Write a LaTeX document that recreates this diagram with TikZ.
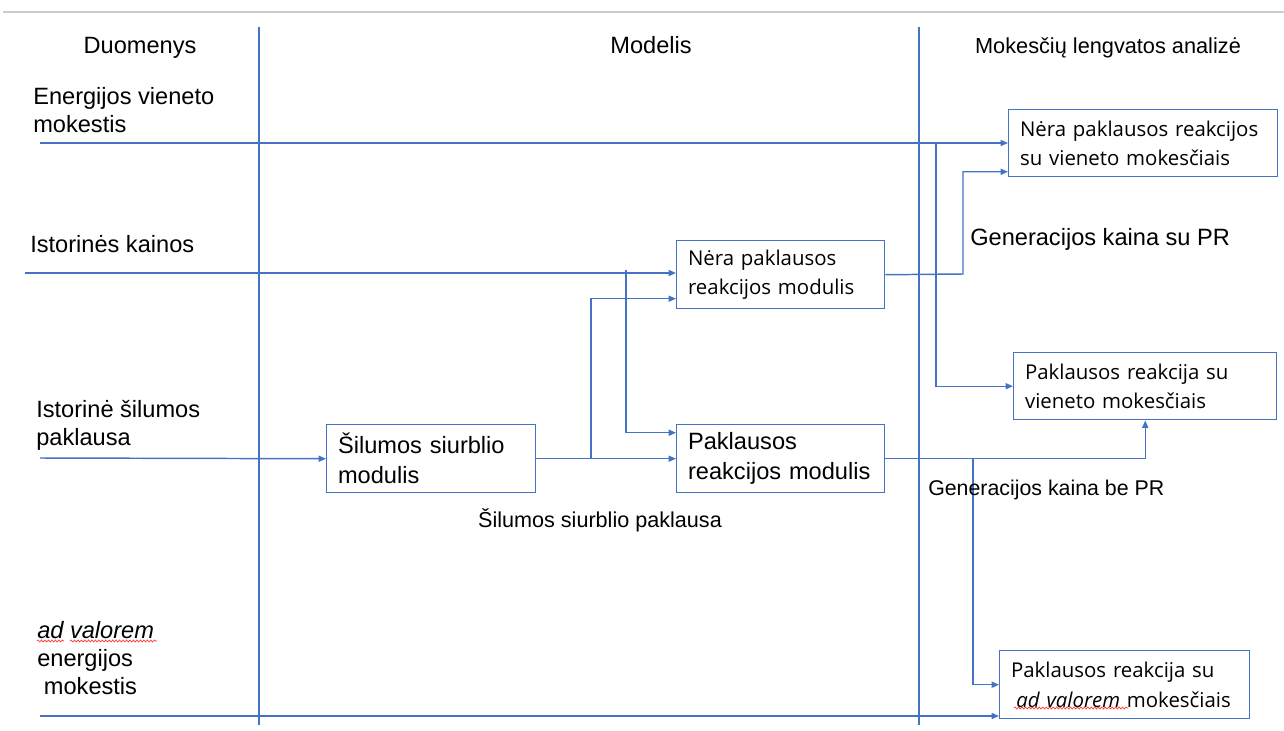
\documentclass[tikz,border=0pt]{standalone}
\usepackage{fontspec}
\setmainfont{Liberation Sans}
\newfontfamily\seg{Open Sans}
\usetikzlibrary{arrows.meta,decorations.pathmorphing}
\definecolor{ln}{RGB}{68,114,196}
\begin{document}
\begin{tikzpicture}[x=0.75pt,y=-0.75pt,
  conn/.style={draw=ln,line width=1.1pt},
  arr/.style={conn,-{Triangle[length=5.5pt,width=4.5pt]}},
  box/.style={draw=ln,line width=1.1pt,anchor=north west,align=left,inner xsep=8.5pt,inner ysep=0pt},
  segf/.style={font=\seg\fontsize{15.3}{22}\selectfont},
  arf/.style={font=\fontsize{17.7}{22.5}\selectfont},
  lbl/.style={inner sep=0pt,align=left,font=\fontsize{17.7}{21}\selectfont},
  wavy/.style={draw=red!80,line width=0.5pt,decorate,decoration={snake,amplitude=0.75pt,segment length=2.6pt}}]

\useasboundingbox (0,0) rectangle (1284,731);
\draw[gray!40,line width=1.1pt] (3,12) -- (1284,12);
\draw[conn] (259,27) -- (259,725);
\draw[conn] (919,27) -- (919,725);

% headers
\node[lbl,anchor=base] (h1) at (140,54) {Duomenys};
\node[lbl,anchor=base] (h2) at (651,54) {Modelis};
\node[lbl,anchor=base,font=\fontsize{16.3}{20}\selectfont] (h3) at (1108,54) {Mokesčių lengvatos analizė};

% left labels
\node[lbl,anchor=west] (l1) at (33,110) {Energijos vieneto\\mokestis};
\node[lbl,anchor=west] (l2) at (30,244) {Istorinės kainos};
\node[lbl,anchor=west] (l3) at (36,425) {Istorinė šilumos\\paklausa};
\node[lbl,anchor=west] (l4) at (37,658) {\textit{ad valorem}\\energijos\\\hspace{5pt}mokestis};

% boxes
\node[box,segf,text width=184.75pt,minimum height=50.25pt] (b1) at (1008,109) {Nėra paklausos reakcijos\\su vieneto mokesčiais};
\node[box,segf,text width=139pt,minimum height=51pt] (b2) at (676,240) {Nėra paklausos\\reakcijos modulis};
\node[box,segf,text width=180.25pt,minimum height=50.25pt] (b3) at (1013,352) {Paklausos reakcija su\\vieneto mokesčiais};
\node[box,arf,text width=139pt,minimum height=51pt] (b4) at (676,424) {Paklausos\\reakcijos modulis};
\node[box,arf,text width=139.75pt,minimum height=51pt] (b5) at (326,424) {Šilumos siurblio\\modulis};
\node[box,segf,text width=170.5pt,minimum height=51pt] (b6) at (999,650) {Paklausos reakcija su\\\hspace{4pt}\textit{ad valorem} mokesčiais};

% connectors
\coordinate (in1) at (40,143);
\draw[arr] (in1) -- (in1 -| b1.west);
\coordinate (j1) at (936,143);
\draw[arr] (j1) |- (b3.west);

\coordinate (in2) at (25,273);
\draw[arr] (in2) -- (in2 -| b2.west);
\coordinate (j2) at (626,270);
\draw[arr] (j2) |- ([yshift=19.5pt]b4.west);

\coordinate (in3) at (40,458);
\draw[arr] (in3) -- (b5.west);
\draw[arr] (b5.east) -- (b4.west);
\coordinate (j3) at (591,458);
\draw[arr] (j3) |- ([yshift=-18pt]b2.west);

\coordinate (k1) at (963,274);
\draw[arr] (b2.east) -- (k1) |- ([yshift=-21.4pt]b1.west);

\draw[arr] (b4.east) -| (b3.south);
\coordinate (j4) at (973,458);
\draw[arr] (j4) |- (b6.west);

\coordinate (in4) at (40,716);
\draw[arr] (in4) -- (in4 -| b6.west);

% labels
\node[lbl,font=\fontsize{16.2}{20}\selectfont] (s1) at (600,520) {Šilumos siurblio paklausa};
\node[lbl,anchor=west] (g1) at (970,239) {Generacijos kaina su PR};
\node[lbl,anchor=west,font=\fontsize{16}{20}\selectfont] (g2) at (928,490) {Generacijos kaina be PR};

% spell-check squiggles
\draw[wavy] (37,641) -- (64,641);
\draw[wavy] (70,641) -- (157,641);
\draw[wavy] (1014,708) -- (1128,708);
\end{tikzpicture}
\end{document}
